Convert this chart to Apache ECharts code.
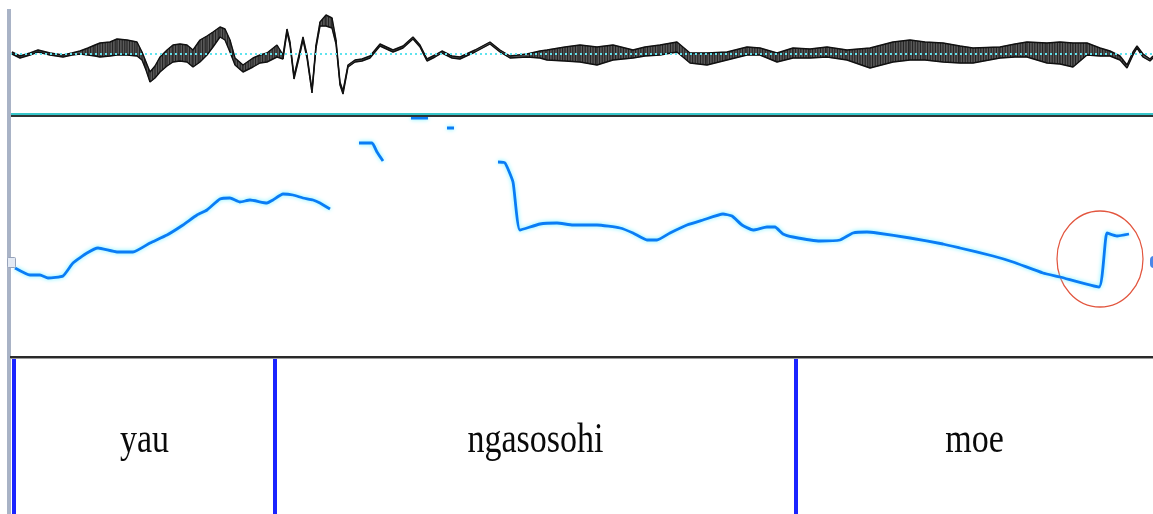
<!DOCTYPE html>
<html><head><meta charset="utf-8">
<script src="https://cdn.jsdelivr.net/npm/echarts@6/dist/echarts.min.js"></script>
<style>html,body{margin:0;padding:0;background:#fff}#c{width:1153px;height:514px}</style>
</head><body><div id="c"></div>
<script>
// Waveform envelope (time in ms, amplitude)
const waveTime = [2,10,20,28,40,53,62,70,78,85,90,100,107,117,127,132,136,140,145,150,157,163,170,177,183,190,197,203,210,215,220,225,233,243,250,257,267,273,277,280,284,289,293,297,302,306,310,316,322,326,330,333,338,345,352,360,370,383,393,403,410,417,425,432,442,450,465,480,490,500,517,530,537,555,570,587,603,623,635,650,667,680,697,717,737,750,767,783,800,817,837,860,883,900,915,933,950,963,990,1005,1017,1037,1050,1063,1077,1090,1100,1110,1117,1123,1127,1133,1140,1143];
const waveUpper = [.02,-.02,.01,.04,.01,-.01,.01,.03,.06,.09,.11,.12,.15,.14,.12,.02,-.08,-.18,-.12,-.03,.04,.09,.10,.09,.04,.14,.18,.22,.27,.25,.14,-.04,-.11,-.04,-.01,.01,.09,-.01,.25,.12,-.22,-.01,.17,-.01,-.36,.09,.32,.39,.36,.14,-.28,-.37,-.11,-.06,-.05,-.02,.10,.04,.08,.17,.09,-.05,-.01,.03,-.02,-.03,.04,.12,.04,-.02,.00,.03,.04,.07,.09,.07,.09,.04,.07,.09,.12,.01,.01,.02,.07,.06,.01,.06,.05,.07,.04,.06,.12,.14,.12,.11,.08,.06,.07,.10,.12,.11,.12,.11,.11,.06,.03,-.02,-.11,.02,.08,.00,-.05,-.02];
const waveLower = [.00,-.04,-.01,.02,-.01,-.03,-.01,.00,-.01,-.02,-.03,-.02,-.01,-.01,-.02,-.06,-.16,-.28,-.24,-.18,-.12,-.08,-.07,-.08,-.13,-.08,-.01,.07,.17,.14,.02,-.11,-.18,-.13,-.09,-.08,-.03,-.05,.22,.09,-.25,-.04,.14,-.04,-.39,.06,.28,.28,.26,.10,-.31,-.40,-.13,-.08,-.07,-.04,.08,.02,.06,.15,.07,-.07,-.03,.01,-.04,-.05,.02,.10,.02,-.04,-.03,-.04,-.06,-.07,-.08,-.11,-.06,-.04,-.02,-.01,.02,-.09,-.11,-.06,-.01,-.01,-.08,-.04,-.04,-.03,-.06,-.14,-.08,-.06,-.06,-.08,-.09,-.09,-.04,-.03,-.03,-.09,-.10,-.13,-.01,-.02,-.02,-.06,-.14,-.01,.06,-.03,-.07,-.04];

// Pitch track (time in ms, Hz); null = unvoiced gap
const pitchTime = [5,20,30,38,53,63,77,88,107,123,140,157,173,187,197,210,220,230,240,257,263,273,283,293,303,310,320,335,
  349,362,367,373,385,
  401,418,430,
  437,444,460,
  488,495,503,510,530,547,563,587,610,623,637,647,660,677,693,713,722,732,743,757,765,773,783,810,830,843,857,867,900,933,950,983,1003,1033,1050,1089,1097,1107,1119];
const pitchHz = [163,156,156,153,155,168,178,183,179,179,188,196,206,216,221,232,233,229,231,228,231,237,236,233,231,228,222,null,
  288,288,279,270,null,
  313,313,null,
  303,303,null,
  269,268,249,201,207,208,206,206,203,198,191,191,198,206,211,217,215,206,201,204,204,197,194,190,191,198,199,198,193,187,183,175,169,158,154,144,198,195,197];

// Text tier
const tierStart = [4, 265, 786];
const tierEnd = [265, 786, 1143];
const tierLabels = ['yau', 'ngasosohi', 'moe'];

// Annotation circle centre (ms, Hz)
const circleCenter = [1090, 172];

const chart = echarts.init(document.getElementById('c'), null, {renderer: 'canvas'});
const xa = (i) => ({gridIndex: i, type: 'value', min: 0, max: 1143, show: false});
const bandData = waveTime.slice(0, -1).map((t, i) =>
  [t, waveUpper[i], waveLower[i], waveTime[i + 1], waveUpper[i + 1], waveLower[i + 1]]);
const option = {
  animation: false,
  grid: [
    {left: 10, right: 0, top: 0, height: 108},
    {left: 10, right: 0, top: 115, height: 241},
    {left: 10, right: 0, top: 358, height: 156}
  ],
  xAxis: [xa(0), xa(1), xa(2)],
  yAxis: [
    {gridIndex: 0, type: 'value', min: -0.54, max: 0.54, show: false},
    {gridIndex: 1, type: 'value', min: 75, max: 316, show: false},
    {gridIndex: 2, type: 'value', min: 0, max: 1, show: false}
  ],
  series: [
    {
      type: 'custom', xAxisIndex: 0, yAxisIndex: 0,
      data: bandData,
      encode: {x: [0, 3], y: [1, 2, 4, 5]},
      renderItem: function (params, api) {
        const a = api.coord([api.value(0), api.value(1)]);
        const b = api.coord([api.value(3), api.value(4)]);
        const c = api.coord([api.value(3), api.value(5)]);
        const d = api.coord([api.value(0), api.value(2)]);
        const children = [{type: 'polygon', shape: {points: [a, b, c, d]},
          style: {fill: '#5a5a5a', stroke: '#5a5a5a', lineWidth: 0.6}}];
        // vertical striations (rendering texture inside the band)
        const w = b[0] - a[0];
        for (let px = a[0]; px < b[0]; px += 2.6) {
          const f = w > 0 ? (px - a[0]) / w : 0;
          const yt = a[1] + (b[1] - a[1]) * f;
          const yb = d[1] + (c[1] - d[1]) * f;
          if (yb - yt > 3) {
            children.push({type: 'line', shape: {x1: px, y1: yt, x2: px, y2: yb},
              style: {stroke: '#1a1a1a', lineWidth: 0.9}});
          }
        }
        return {type: 'group', children: children};
      },
      markLine: {silent: true, symbol: 'none', label: {show: false},
        lineStyle: {color: '#5fe3ee', type: [2, 3], width: 2}, data: [{yAxis: 0}]},
      z: 3
    },
    {
      type: 'line', xAxisIndex: 0, yAxisIndex: 0, symbol: 'none',
      lineStyle: {color: '#111', width: 1.4},
      data: waveTime.map((t, i) => [t, waveUpper[i]]), z: 4
    },
    {
      type: 'line', xAxisIndex: 0, yAxisIndex: 0, symbol: 'none',
      lineStyle: {color: '#111', width: 1.4},
      data: waveTime.map((t, i) => [t, waveLower[i]]), z: 4
    },
    {
      type: 'line', xAxisIndex: 1, yAxisIndex: 1, symbol: 'none',
      connectNulls: false, smooth: 0.15,
      lineStyle: {color: '#0a7cf5', width: 2.8, shadowColor: '#6ff0ff', shadowBlur: 4},
      data: pitchTime.map((t, i) => [t, pitchHz[i] === null ? '-' : pitchHz[i]]),
      markPoint: {
        silent: true, symbol: 'circle', symbolSize: [86, 96],
        itemStyle: {color: 'rgba(0,0,0,0)', borderColor: '#e2563f', borderWidth: 1.3},
        label: {show: false},
        data: [{coord: circleCenter}]
      },
      z: 5
    },
    {
      type: 'custom', xAxisIndex: 2, yAxisIndex: 2,
      data: tierStart.map((s, i) => [s, tierEnd[i], 0.5]),
      encode: {x: [0, 1], y: 2},
      renderItem: function (params, api) {
        const s = api.coord([api.value(0), 0.5]);
        const e = api.coord([api.value(1), 0.5]);
        const cs = params.coordSys;
        return {
          type: 'group',
          children: [
            {type: 'rect', shape: {x: s[0] - 2, y: cs.y, width: 4, height: cs.height}, style: {fill: '#1a24ff'}},
            {type: 'text', x: (s[0] + e[0]) / 2, y: cs.y + cs.height * 0.53, scaleY: 1.25,
              style: {text: tierLabels[params.dataIndex], x: 0, y: 0, align: 'center', verticalAlign: 'middle',
                font: '34px "Liberation Serif", "DejaVu Serif", serif', fill: '#0a0a0a'}}
          ]
        };
      }
    }
  ],
  graphic: [
    {type: 'rect', left: 7, top: 9, shape: {width: 4, height: 505}, style: {fill: '#a9b3c6'}, z: 10},
    {type: 'rect', left: 11, top: 113, shape: {width: 1142, height: 2}, style: {fill: '#38c6ca'}, z: 10},
    {type: 'rect', left: 11, top: 115, shape: {width: 1142, height: 2}, style: {fill: '#2d3535'}, z: 10},
    {type: 'rect', left: 10, top: 356, shape: {width: 1143, height: 2}, style: {fill: '#2a2a2a'}, z: 10},
    {type: 'rect', left: 10, top: 358, shape: {width: 1143, height: 1}, style: {fill: '#9a9a9a'}, z: 10},
    {type: 'rect', left: 7, top: 257, shape: {width: 8, height: 10, r: 1}, style: {fill: '#e4eaf4', stroke: '#97a3ba', lineWidth: 1}, z: 11},
    {type: 'rect', left: 1150, top: 256, shape: {width: 8, height: 12, r: 4}, style: {fill: '#4a86e8'}, z: 11}
  ]
};
chart.setOption(option);
</script>
</body></html>
